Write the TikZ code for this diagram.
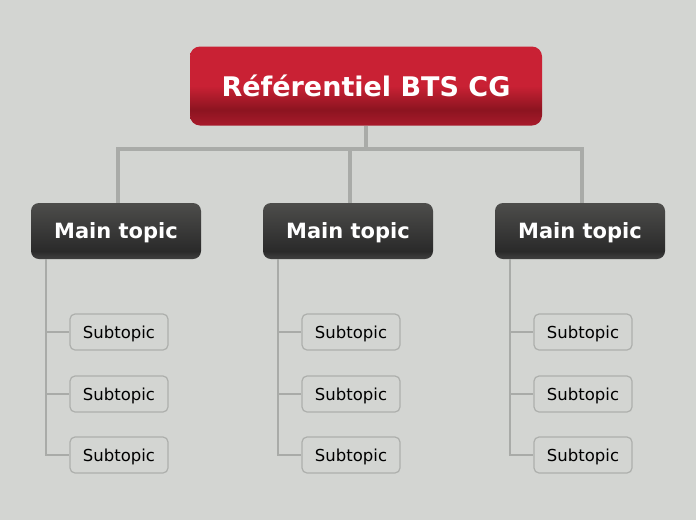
\documentclass[tikz,border=0pt]{standalone}
\usepackage{fontspec}
\setmainfont{DejaVu Sans}
\usetikzlibrary{positioning}

\definecolor{fond}{HTML}{D3D5D2}
\definecolor{rougeHaut}{HTML}{C92134}
\definecolor{rougeSombre}{HTML}{8C1420}
\definecolor{rougeBas}{HTML}{A81A2B}
\definecolor{grisHaut}{HTML}{4D4D4B}
\definecolor{grisSombre}{HTML}{2A2A2A}
\definecolor{grisBas}{HTML}{404040}
\definecolor{branche}{HTML}{A9ABA8}
\definecolor{bordSub}{HTML}{ADAFAC}

\pgfdeclareverticalshading{ombreRacine}{100bp}{color(0bp)=(rougeBas); color(25bp)=(rougeBas); color(35bp)=(rougeSombre); color(50bp)=(rougeHaut); color(100bp)=(rougeHaut)}
\pgfdeclareverticalshading{ombreMain}{100bp}{color(0bp)=(grisBas); color(25bp)=(grisBas); color(32bp)=(grisSombre); color(75bp)=(grisHaut); color(100bp)=(grisHaut)}

\begin{document}
\begin{tikzpicture}[x=1pt, y=-1pt,
    racine/.style={rounded corners=10pt, minimum width=352pt, minimum height=79pt,
      shading=ombreRacine, text=white, font=\fontsize{27}{31}\selectfont\bfseries},
    principal/.style={rounded corners=8pt, minimum width=170pt, minimum height=56pt,
      shading=ombreMain, text=white, text depth=0pt, font=\fontsize{21}{25}\selectfont\bfseries},
    soustheme/.style={draw=bordSub, line width=1.2pt, rounded corners=5pt, fill=fond,
      minimum width=98pt, minimum height=36pt, text depth=0pt, font=\fontsize{16.5}{19}\selectfont},
    liengros/.style={draw=branche, line width=4pt},
    lienfin/.style={draw=branche, line width=1.5pt}]

  % Fond
  \fill[fond] (0,0) rectangle (696,520);
  \useasboundingbox (0,0) rectangle (696,520);

  % Racine
  \node[racine] (racine) at (366,86) {Référentiel BTS CG};
  \coordinate (jonction) at (366,149);
  \draw[liengros] (racine.south) -- (jonction);

  % Thèmes principaux et sous-thèmes
  \foreach \i/\x in {1/116, 2/348, 3/580} {
    \node[principal] (main\i) at (\x,231) {Main topic};
    \draw[liengros] (jonction) -| ([xshift=2pt]main\i.north);
    \foreach \j/\dy in {1/101, 2/163, 3/224} {
      \node[soustheme] (sub\i\j) at (\x+3,231+\dy) {Subtopic};
      \draw[lienfin] ([xshift=15pt]main\i.south west) |- (sub\i\j.west);
    }
  }
\end{tikzpicture}
\end{document}
